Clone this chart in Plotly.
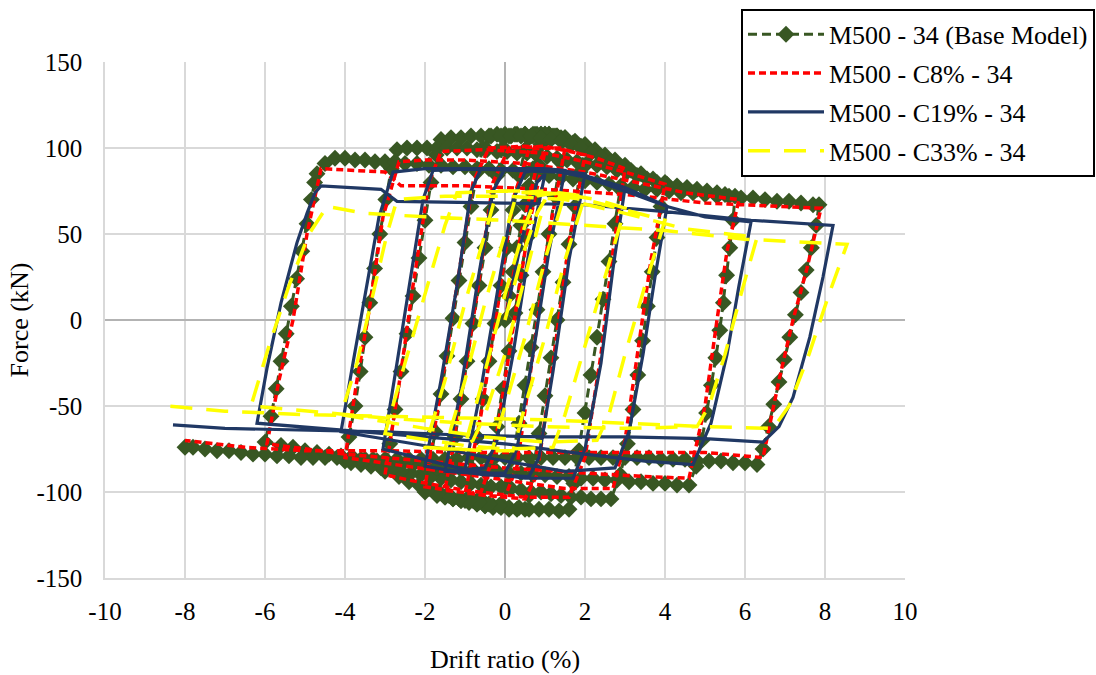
import plotly.graph_objects as go

# ---------------------------------------------------------------
# Hysteresis paths: drift ratio (%) and force (kN), in loading order
# ---------------------------------------------------------------

# M500 - 34 (Base Model): recorded points (dense, shown with markers)
base_drift = [
    0, 0.1, 0.2, 0.3, 0.4, 0.5, 0.6, 0.7, 0.8, 0.9, 1.0,
    0.85, 0.7, 0.55, 0.4, 0.25, 0.1, -0.05, -0.2, -0.35, -0.5, -0.6,
    -0.7, -0.8, -0.9, -1.0,
    -0.85, -0.7, -0.55, -0.4, -0.25, -0.1, 0.05, 0.2, 0.35, 0.5, 0.6,
    0.7, 0.8, 0.9, 1.0, 1.1, 1.2, 1.3, 1.4, 1.5,
    1.38, 1.25, 1.1, 0.95, 0.8, 0.65, 0.5, 0.35, 0.2, 0.05, -0.1,
    -0.3, -0.5, -0.7, -0.9, -1.1, -1.3, -1.5,
    -1.38, -1.25, -1.1, -0.95, -0.8, -0.65, -0.5, -0.35, -0.2, -0.05, 0.1,
    0.3, 0.5, 0.7, 0.9, 1.1, 1.3, 1.5, 1.7, 1.9, 2.0,
    1.88, 1.75, 1.6, 1.45, 1.3, 1.15, 1.0, 0.85, 0.72, 0.6, 0.5,
    0.3, 0.1, -0.1, -0.3, -0.5, -0.7, -0.9, -1.1, -1.3, -1.5, -1.7, -2.0,
    -1.88, -1.75, -1.6, -1.45, -1.3, -1.15, -1.0, -0.85, -0.7, -0.55, -0.4,
    -0.2, 0, 0.25, 0.5, 0.75, 1.0, 1.25, 1.5, 1.75, 2.0, 2.25, 2.5, 2.75, 3.0,
    2.88, 2.75, 2.6, 2.45, 2.3, 2.15, 2.0, 1.85, 1.72, 1.6,
    1.35, 1.1, 0.85, 0.6, 0.35, 0.1, -0.15, -0.4, -0.65, -0.9, -1.15, -1.4, -1.65,
    -1.9, -2.15, -2.4, -2.65, -3.0,
    -2.88, -2.75, -2.6, -2.45, -2.3, -2.15, -2.0, -1.85, -1.72, -1.6,
    -1.35, -1.1, -0.85, -0.6, -0.35, -0.1, 0.15, 0.4, 0.65, 0.9, 1.15, 1.4, 1.65,
    1.9, 2.15, 2.4, 2.65, 2.9, 3.15, 3.4, 3.7, 4.0,
    3.9, 3.8, 3.68, 3.56, 3.44, 3.32, 3.2, 3.06, 2.88, 2.65,
    2.4, 2.15, 1.9, 1.65, 1.4, 1.15, 0.9, 0.65, 0.4, 0.15, -0.1, -0.35, -0.6,
    -0.85, -1.1, -1.35, -1.6, -1.85, -2.1, -2.35, -2.6, -2.85, -3.1, -3.35, -3.6,
    -3.85, -4.0,
    -3.9, -3.75, -3.62, -3.5, -3.38, -3.26, -3.13, -2.98, -2.84, -2.7,
    -2.45, -2.2, -1.95, -1.7, -1.45, -1.2, -0.95, -0.7, -0.45, -0.2, 0.05, 0.3,
    0.55, 0.8, 1.05, 1.3, 1.55, 1.8, 2.05, 2.3, 2.55, 2.8, 3.05, 3.3, 3.55, 3.8,
    4.05, 4.3, 4.55, 4.8, 5.05, 5.3, 5.5, 5.75,
    5.7, 5.62, 5.54, 5.46, 5.37, 5.27, 5.16, 5.04, 4.92, 4.78, 4.6,
    4.3, 4.0, 3.7, 3.4, 3.1, 2.8, 2.5, 2.2, 1.9, 1.6, 1.3, 1.0, 0.7, 0.4, 0.1,
    -0.2, -0.5, -0.8, -1.1, -1.4, -1.7, -2.0, -2.3, -2.6, -2.9, -3.2, -3.5, -3.8,
    -4.1, -4.4, -4.7, -5.0, -5.3, -5.6, -6.0,
    -5.85, -5.72, -5.6, -5.47, -5.34, -5.21, -5.08, -4.95, -4.84, -4.76, -4.7,
    -4.5, -4.25, -4.0, -3.75, -3.5, -3.25, -3.0, -2.75, -2.5, -2.2, -1.9, -1.6,
    -1.3, -1.0, -0.7, -0.4, -0.1, 0.2, 0.5, 0.8, 1.1, 1.4, 1.7, 2.0, 2.3, 2.6,
    2.9, 3.2, 3.5, 3.8, 4.1, 4.4, 4.7, 5.0, 5.3, 5.6, 5.9, 6.2, 6.5, 6.8, 7.1,
    7.4, 7.7, 7.85,
    7.78, 7.66, 7.53, 7.4, 7.26, 7.12, 6.98, 6.85, 6.72, 6.59, 6.45, 6.3,
    6.0, 5.7, 5.4, 5.1, 4.8, 4.5, 4.2, 3.9, 3.6, 3.3, 3.0, 2.7, 2.4, 2.1, 1.8,
    1.5, 1.2, 0.9, 0.6, 0.3, 0.0, -0.3, -0.6, -0.9, -1.2, -1.5, -1.8, -2.1, -2.4,
    -2.7, -3.0, -3.3, -3.6, -3.9, -4.2, -4.5, -4.8, -5.1, -5.4, -5.7, -6.0, -6.3,
    -6.6, -6.9, -7.2, -7.5, -7.8, -8.0,
]
base_force = [
    0, 14, 28, 42, 55, 67, 78, 88, 96, 102, 106,
    90, 70, 48, 26, 4, -18, -40, -62, -82, -97, -104,
    -105, -105, -105, -105,
    -88, -68, -46, -24, -2, 20, 42, 64, 84, 99, 106,
    107, 108, 108, 108, 108, 107, 107, 106, 106,
    92, 72, 50, 28, 6, -16, -38, -60, -80, -97, -107,
    -108, -108, -107, -106, -105, -104, -103,
    -88, -68, -46, -24, -2, 20, 42, 64, 84, 100, 107,
    108, 108, 108, 108, 108, 107, 105, 103, 101, 100,
    86, 66, 44, 22, 0, -22, -44, -66, -86, -102, -110,
    -110, -110, -109, -109, -108, -107, -106, -105, -104, -103, -102, -100,
    -85, -65, -43, -21, 1, 23, 45, 66, 86, 100, 107,
    108, 108, 108, 108, 108, 108, 107, 106, 104, 102, 99, 96, 93, 90,
    76, 56, 34, 12, -10, -32, -54, -76, -95, -110,
    -111, -110, -110, -110, -109, -109, -108, -107, -106, -105, -104, -102, -100,
    -98, -96, -94, -91, -88,
    -72, -52, -30, -8, 14, 36, 58, 80, 96, 105,
    106, 106, 107, 107, 107, 107, 107, 107, 107, 106, 105, 104, 102,
    100, 97, 95, 92, 89, 87, 85, 82, 80,
    66, 48, 28, 8, -12, -32, -52, -72, -90, -104,
    -104, -104, -103, -103, -102, -101, -100, -100, -99, -98, -97, -97, -96,
    -95, -94, -93, -92, -91, -90, -89, -88, -87, -86, -85, -84,
    -83, -82,
    -68, -50, -30, -10, 10, 30, 50, 70, 88, 99,
    100, 100, 100, 100, 100, 100, 100, 99, 99, 98, 98, 97,
    97, 96, 95, 94, 93, 92, 91, 90, 89, 87, 86, 84, 82, 80,
    79, 78, 77, 76, 75, 74, 73, 72,
    58, 42, 26, 10, -6, -22, -38, -54, -70, -85, -96,
    -96, -95, -95, -94, -94, -93, -93, -92, -92, -91, -91, -90, -90, -89, -89,
    -88, -88, -87, -87, -86, -86, -85, -84, -84, -83, -82, -81, -80,
    -79, -78, -77, -76, -74, -73, -71,
    -56, -40, -24, -8, 8, 24, 40, 56, 70, 80, 85,
    91, 94, 94, 93, 93, 92, 92, 92, 91, 91, 90, 90,
    89, 89, 88, 88, 87, 87, 86, 85, 84, 83, 82, 81, 80, 79,
    78, 77, 76, 76, 75, 74, 74, 73, 72, 72, 71, 71, 70, 69, 69,
    68, 67, 67,
    55, 42, 29, 16, 3, -10, -23, -36, -49, -62, -75, -84,
    -83, -83, -82, -82, -82, -81, -81, -81, -80, -80, -80, -80, -80, -80, -80,
    -80, -80, -80, -80, -80, -80, -80, -80, -80, -81, -81, -81, -81, -81,
    -81, -81, -81, -81, -81, -80, -80, -80, -80, -79, -79, -78, -78,
    -77, -76, -76, -75, -74, -74,
]

# M500 - C8% - 34
c8_drift = [0, 0.4, 0.8, 1.0, 0.6, 0.1, -0.3, -0.6, -1.0, -0.6, -0.2, 0.2, 0.6, 1.0, 1.5,
            1.1, 0.7, 0.3, 0.0, -0.8, -1.5, -1.1, -0.7, -0.3, 0.1, 1.0, 2.0,
            1.6, 1.2, 0.8, 0.5, -0.5, -1.5, -2.0, -1.6, -1.2, -0.8, -0.4, 0.5, 1.5, 2.3, 3.0,
            2.7, 2.4, 2.0, 1.6, 0.5, -1.0, -2.2, -3.0, -2.6, -2.3, -1.9, -1.6,
            -0.5, 1.0, 2.0, 3.0, 4.0, 3.65, 3.35, 3.0, 2.7, 1.5, 0, -1.5, -3.0, -4.0,
            -3.7, -3.4, -3.05, -2.65, -2.0, -1.0, 0.5, 2.0, 3.5, 4.5, 5.85,
            5.55, 5.3, 5.0, 4.6, 3.5, 2.0, 0, -2.0, -4.0, -5.95,
            -5.65, -5.3, -4.95, -4.6, -3.0, -2.6, -1.0, 1.0, 3.0, 5.0, 7.9,
            7.55, 7.2, 6.85, 6.45, 5.0, 3.0, 1.0, -1.0, -3.0, -5.0, -6.5, -8.0]
c8_force = [0, 50, 90, 98, 55, -20, -80, -100, -101, -55, 5, 70, 99, 100, 100,
            50, -20, -85, -103, -101, -99, -45, 15, 80, 100, 101, 96,
            45, -25, -90, -104, -102, -99, -97, -40, 20, 80, 100, 101, 99, 94, 88,
            40, -20, -80, -103, -103, -99, -94, -90, -30, 20, 80, 98,
            99, 97, 92, 86, 79, 35, -15, -70, -98, -98, -93, -88, -83, -80,
            -35, 5, 60, 92, 93, 93, 91, 86, 79, 74, 70,
            40, 0, -50, -92, -91, -89, -86, -82, -78, -72,
            -35, 0, 50, 88, 86, 78, 78, 76, 73, 68, 65,
            30, 0, -35, -80, -77, -77, -77, -77, -76, -76, -74, -70]

# M500 - C19% - 34
c19_drift = [0, 0.4, 0.8, 1.0, 0.6, 0.2, -0.2, -0.5, -1.0, -0.6, -0.2, 0.2, 0.5, 1.0, 1.5,
             1.1, 0.7, 0.3, 0.0, -0.8, -1.5, -1.1, -0.7, -0.3, 0.0, 1.0, 2.0,
             1.6, 1.2, 0.85, 0.6, -0.5, -1.5, -2.0, -1.6, -1.2, -0.85, -0.6, 0.5, 1.5, 2.3, 3.0,
             2.7, 2.4, 2.0, 1.7, 0.5, -1.0, -2.2, -3.05, -2.7, -2.4, -2.05, -1.8,
             -0.5, 1.0, 2.0, 3.0, 4.05, 3.75, 3.45, 3.1, 2.75, 1.5, 0, -1.5, -3.0, -4.1,
             -3.8, -3.5, -3.15, -2.8, -2.0, -1.0, 0.5, 1.4, 2.0, 3.0, 4.05, 5.0, 6.15,
             5.85, 5.55, 5.15, 4.7, 3.5, 2.0, 0, -2.0, -4.0, -6.2,
             -5.95, -5.6, -5.2, -4.95, -4.75, -4.6, -3.1, -2.7, 0, 2.0, 4.0, 6.15, 8.2,
             7.95, 7.62, 7.2, 6.85, 6.45, 5.0, 3.0, 1.0, -1.0, -3.0, -5.0, -7.0, -8.3]
c19_force = [0, 45, 80, 85, 40, -20, -70, -86, -87, -40, 15, 70, 86, 88, 87,
             40, -20, -75, -89, -89, -88, -40, 20, 75, 88, 88, 85,
             35, -30, -80, -91, -90, -87, -85, -35, 20, 75, 88, 88, 86, 82, 77,
             30, -25, -75, -92, -92, -87, -80, -75, -25, 20, 70, 87,
             88, 87, 84, 77, 66, 25, -20, -65, -86, -88, -82, -75, -69, -65,
             -25, 15, 60, 86, 88, 88, 87, 86, 83, 75, 66, 60, 57,
             20, -20, -60, -84, -82, -78, -72, -68, -64, -60,
             -28, 10, 45, 62, 74, 78, 76, 69, 68, 67, 63, 58, 55,
             25, -10, -45, -62, -71, -69, -68, -68, -67, -65, -64, -63, -61]

# M500 - C33% - 34
c33_drift = [0, 0.4, 0.8, 1.0, 0.5, 0.0, -0.5, -0.8, -1.0, -0.5, 0.0, 0.5, 0.8, 1.0, 1.5,
             1.0, 0.5, 0.0, -0.3, -0.8, -1.5, -1.0, -0.5, 0.0, 0.3, 1.0, 2.0,
             1.5, 1.0, 0.5, 0.2, -0.5, -1.5, -2.0, -1.5, -1.0, -0.5, -0.2, 0.5, 1.5, 2.3, 3.0,
             2.5, 2.0, 1.5, 1.2, 0.0, -1.0, -2.2, -3.0, -2.5, -2.0, -1.5, -1.2,
             0.0, 1.0, 2.0, 3.0, 4.0, 3.5, 3.0, 2.6, 2.3, 1.0, -0.5, -2.0, -3.0, -4.1,
             -3.7, -3.3, -2.95, -2.7, -1.5, 0, 1.5, 3.0, 4.5, 6.3,
             5.9, 5.5, 5.1, 4.8, 3.0, 1.0, -1.0, -3.0, -5.0, -6.35,
             -5.9, -5.4, -4.9, -4.45, -3.5, -2.0, 0, 2.0, 4.0, 6.0, 8.55,
             8.1, 7.6, 7.1, 6.7, 5.0, 3.0, 1.0, -1.0, -3.0, -5.0, -7.0, -8.45]
c33_force = [0, 35, 62, 70, 25, -20, -55, -70, -73, -30, 15, 55, 72, 73, 74,
             35, -10, -50, -74, -75, -75, -35, 10, 50, 74, 75, 72,
             35, -10, -50, -76, -76, -75, -74, -35, 10, 50, 75, 75, 73, 70, 65,
             25, -15, -55, -74, -75, -73, -69, -66, -25, 15, 55, 74,
             75, 73, 70, 64, 58, 20, -20, -55, -70, -71, -68, -63, -59, -55,
             -25, 15, 50, 70, 72, 72, 70, 62, 53, 48,
             15, -20, -50, -62, -63, -62, -60, -57, -53, -50,
             -15, 20, 50, 66, 62, 60, 58, 55, 52, 47, 44,
             15, -20, -50, -63, -62, -60, -58, -57, -56, -55, -53, -50]

series_names = ["M500 - 34 (Base Model)", "M500 - C8% - 34", "M500 - C19% - 34", "M500 - C33% - 34"]

x_ticks = [-10, -8, -6, -4, -2, 0, 2, 4, 6, 8, 10]
x_tick_text = ["-10", "-8", "-6", "-4", "-2", "0", "2", "4", "6", "8", "10"]
y_ticks = [-150, -100, -50, 0, 50, 100, 150]
y_tick_text = ["-150", "-100", "-50", "0", "50", "100", "150"]

serif = "Liberation Serif"
fig = go.Figure()

fig.add_trace(go.Scatter(
    x=base_drift, y=base_force, name=series_names[0], legendgroup="a",
    mode="lines+markers",
    line=dict(color="#385723", width=3, dash="9px,5px"),
    marker=dict(symbol="diamond", size=13, color="#385723"),
))
fig.add_trace(go.Scatter(
    x=c8_drift, y=c8_force, name=series_names[1], legendgroup="b",
    mode="lines", line=dict(color="#FF0000", width=3.5, dash="7px,4px"),
))
fig.add_trace(go.Scatter(
    x=c19_drift, y=c19_force, name=series_names[2], legendgroup="c",
    mode="lines", line=dict(color="#203864", width=3.2),
))
fig.add_trace(go.Scatter(
    x=c33_drift, y=c33_force, name=series_names[3], legendgroup="d",
    mode="lines", line=dict(color="#FFFF00", width=3.5, dash="22px,14px"),
))

axis_common = dict(
    showgrid=True, gridcolor="#d9d9d9", gridwidth=1.5,
    zeroline=True, zerolinecolor="#b3b3b3", zerolinewidth=2,
    showline=True, linecolor="#d9d9d9", linewidth=1.5,
    ticks="", automargin=False,
    tickfont=dict(family=serif, size=25, color="black"),
    title_font=dict(family=serif, size=26, color="black"),
)
fig.update_xaxes(range=[-10, 10], tickvals=x_ticks, ticktext=x_tick_text,
                 title_text="Drift ratio (%)", ticklabelstandoff=10, title_standoff=26,
                 **axis_common)
fig.update_yaxes(range=[-150, 150], tickvals=y_ticks, ticktext=y_tick_text,
                 title_text="Force (kN)", ticklabelstandoff=16, title_standoff=0,
                 **axis_common)

fig.update_layout(
    width=1096, height=675,
    margin=dict(l=105, r=191, t=62, b=97, autoexpand=False),
    paper_bgcolor="white", plot_bgcolor="white",
    font=dict(family=serif, color="black"),
    legend=dict(
        x=0.795, y=1.103, xanchor="left", yanchor="top",
        bgcolor="white", bordercolor="black", borderwidth=2,
        font=dict(family=serif, size=26, color="black"),
        tracegroupgap=2, itemwidth=76,
    ),
)

fig.write_html("out.html")
